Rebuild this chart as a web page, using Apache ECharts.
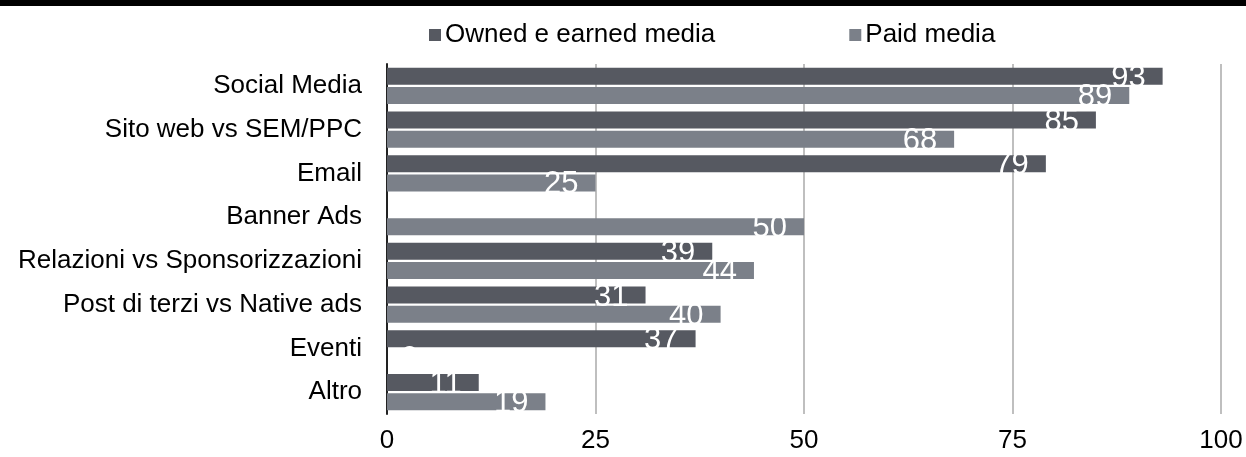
<!DOCTYPE html>
<html>
<head>
<meta charset="utf-8">
<script src="https://cdn.jsdelivr.net/npm/echarts@6/dist/echarts.min.js"></script>
<style>
html,body{margin:0;padding:0;background:#fff;}
#chart{width:1246px;height:457px;}
</style>
</head>
<body>
<div id="chart"></div>
<script>
const categories = ["Social Media","Sito web vs SEM/PPC","Email","Banner Ads","Relazioni vs Sponsorizzazioni","Post di terzi vs Native ads","Eventi","Altro"];
const ownedEarned = [93, 85, 79, 0, 39, 31, 37, 11];
const paid = [89, 68, 25, 50, 44, 40, 0, 19];
const seriesNames = ["Owned e earned media", "Paid media"];
const xTicks = [0, 25, 50, 75, 100];

const FONT = "'Liberation Sans', Arial, sans-serif";

function toItems(arr) {
  return arr.map(v => v === 0
    ? { value: v, label: { position: 'insideLeft', distance: 14 } }
    : v);
}

const chart = echarts.init(document.getElementById('chart'), null, { renderer: 'canvas' });

const labelCfg = {
  show: true,
  position: 'insideRight',
  distance: 17,
  offset: [0, 2],
  color: '#ffffff',
  fontSize: 31,
  fontFamily: FONT
};

chart.setOption({
  animation: false,
  backgroundColor: '#ffffff',
  textStyle: { fontFamily: FONT },
  graphic: [{
    type: 'rect',
    left: 0, top: 0,
    shape: { x: 0, y: 0, width: 1246, height: 6 },
    style: { fill: '#000000' }
  }],
  legend: {
    left: 424,
    top: 17,
    itemWidth: 12,
    itemHeight: 12,
    itemGap: 134,
    icon: 'rect',
    textStyle: { fontSize: 26, color: '#000', fontFamily: FONT, padding: [0, 0, 0, -1] },
    data: seriesNames
  },
  grid: { left: 387, right: 25, top: 64, bottom: 43, containLabel: false },
  xAxis: {
    type: 'value',
    min: xTicks[0],
    max: xTicks[xTicks.length - 1],
    interval: 25,
    axisLine: { show: false },
    axisTick: { show: false },
    splitLine: { show: true, lineStyle: { color: '#bfbfbf', width: 2 } },
    axisLabel: { fontSize: 26, color: '#000', margin: 14, fontFamily: FONT }
  },
  yAxis: {
    type: 'category',
    inverse: true,
    data: categories,
    axisLine: { show: true, lineStyle: { color: '#222', width: 2 } },
    axisTick: { show: false },
    axisLabel: { fontSize: 26, color: '#000', margin: 25, fontFamily: FONT }
  },
  series: [
    {
      name: seriesNames[0],
      type: 'bar',
      data: toItems(ownedEarned),
      barWidth: 17,
      barGap: '12%',
      itemStyle: { color: '#565961' },
      label: labelCfg
    },
    {
      name: seriesNames[1],
      type: 'bar',
      data: toItems(paid),
      barWidth: 17,
      barGap: '12%',
      itemStyle: { color: '#7b8089' },
      label: labelCfg
    }
  ]
});
</script>
</body>
</html>
